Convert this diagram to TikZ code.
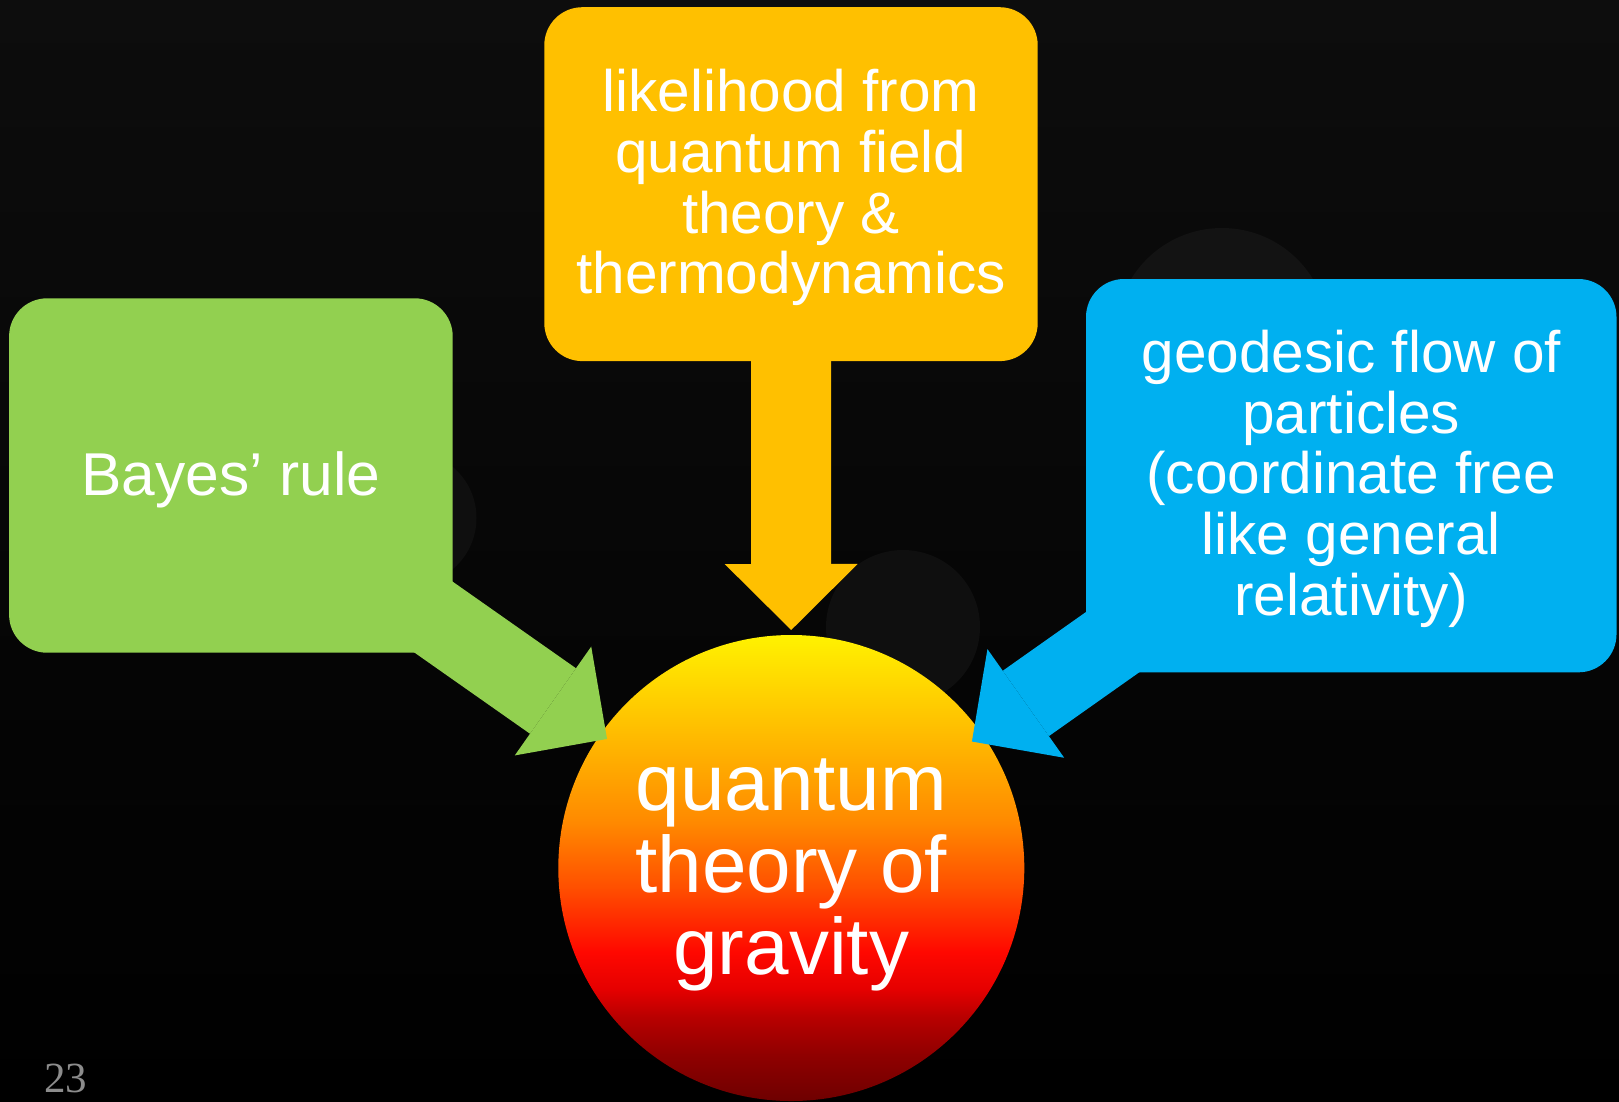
\documentclass[tikz,border=0pt]{standalone}
\usepackage{fontspec}
\setmainfont{Liberation Sans}
\newfontfamily\pagenumfont{Liberation Serif}
\usetikzlibrary{arrows.meta}
\definecolor{bgtop}{HTML}{0D0D0D}
\definecolor{bgbot}{HTML}{000000}
\definecolor{boxgreen}{HTML}{92D050}
\definecolor{boxgold}{HTML}{FFC000}
\definecolor{boxblue}{HTML}{00B0F0}
\definecolor{faintA}{HTML}{131313}
\definecolor{faintB}{HTML}{0F0F0F}
\definecolor{pagegray}{HTML}{8C8C8C}
\definecolor{shA}{HTML}{6E0000}
\definecolor{shB}{HTML}{900000}
\definecolor{shC}{HTML}{B80000}
\definecolor{shD}{HTML}{E50000}
\definecolor{shE}{HTML}{FF0800}
\definecolor{shF}{HTML}{FF5000}
\definecolor{shG}{HTML}{FF8A00}
\definecolor{shH}{HTML}{FFC400}
\definecolor{shI}{HTML}{FFF200}
\pgfdeclareverticalshading{qgshade}{100bp}{color(0bp)=(shA); color(25bp)=(shA); color(30bp)=(shB); color(34bp)=(shC); color(37bp)=(shD); color(41bp)=(shE); color(48bp)=(shF); color(55bp)=(shG); color(66bp)=(shH); color(75bp)=(shI); color(100bp)=(shI)}
\begin{document}
\begin{tikzpicture}[x=1pt,y=-1pt,
  callout/.style={rectangle, rounded corners=38pt, inner sep=0pt, outer sep=0pt},
  boxtext/.style={inner sep=0pt, outer sep=0pt, text=white, align=center, font=\fontsize{58.5}{60.6}\selectfont},
  blockarrow/.style={line width=80pt, shorten <=-40pt, -{Triangle[width=133pt,length=66pt,line width=0pt]}},
  faint/.style={circle, inner sep=0pt, outer sep=0pt}]
\useasboundingbox (0,0) rectangle (1619,1101);
\fill[top color=bgtop, bottom color=bgbot] (0,0) rectangle (1619,1101);
% faint background discs
\node[faint, fill=faintA, minimum size=213pt] (fc1) at (1222,334.5) {};
\node[faint, fill=faintB, minimum size=154pt] (fc2) at (903,627) {};
\node[faint, fill=faintB, minimum size=134pt] (fc3) at (409.5,518) {};
% boxes
\node[callout, fill=boxgreen, minimum width=443.6pt, minimum height=354.4pt] (bayes) at (230.9,475.5) {};
\node[callout, fill=boxgold, minimum width=493.4pt, minimum height=353.9pt] (qft) at (791,184.15) {};
\node[callout, fill=boxblue, minimum width=530.5pt, minimum height=393.3pt] (geo) at (1351.25,475.65) {};
% central disc
\node[circle, shade, shading=qgshade, minimum size=466pt, inner sep=0pt, outer sep=0pt] (qg) at (791.3,868) {};
% block arrows
\draw[blockarrow, boxgreen, shorten >=-8pt] (bayes) -- (qg);
\draw[blockarrow, boxgold, shorten >=5pt] (qft) -- (qg);
\draw[blockarrow, boxblue, shorten >=-12.5pt] (geo) -- (qg);
% texts
\node[boxtext, font=\fontsize{60.5}{66}\selectfont] (bayeslbl) at (230.9,479.5) {Bayes’ rule};
\node[boxtext] (qftlbl) at (791,187.7) {likelihood from\\quantum field\\theory \&\\thermodynamics};
\node[boxtext] (geolbl) at (1351.25,478.7) {geodesic flow of\\particles\\(coordinate free\\like general\\relativity)};
\node[boxtext, font=\fontsize{80}{82}\selectfont] (qglbl) at (791.3,875) {quantum\\theory of\\gravity};
% page number
\node[anchor=base west, text=pagegray, font=\pagenumfont\fontsize{43}{50}\selectfont, inner sep=0pt] (pnum) at (44,1092.7) {23};
\end{tikzpicture}
\end{document}
